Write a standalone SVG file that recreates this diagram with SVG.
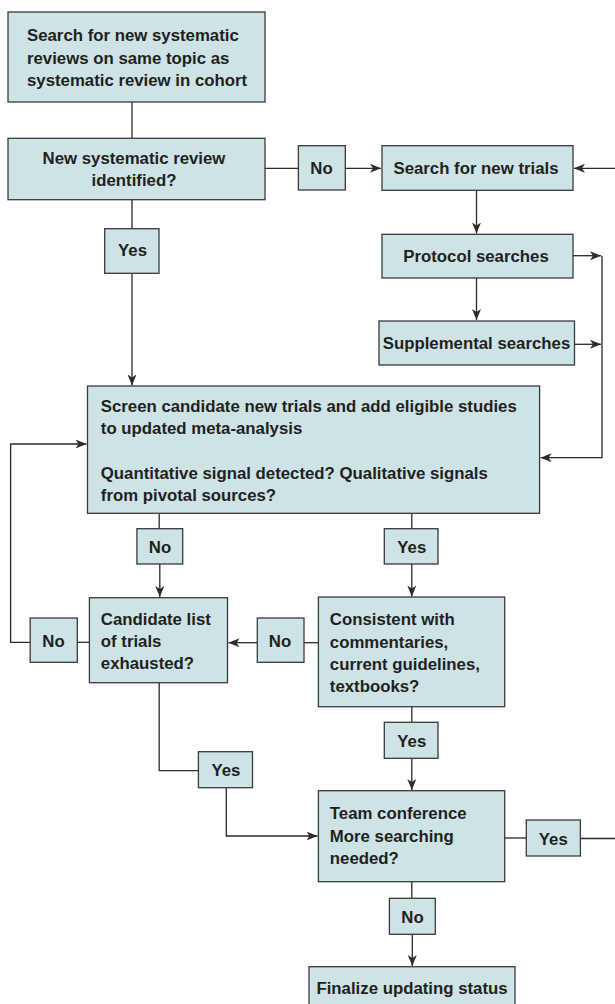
<svg xmlns="http://www.w3.org/2000/svg" width="615" height="1004" viewBox="0 0 615 1004">
<defs>
<style>
.box{fill:#cde3e5;stroke:#3a3a3a;stroke-width:1.3}
.t{font-family:"Liberation Sans",Arial,sans-serif;font-weight:bold;font-size:16.8px;fill:#231f20}
.c{text-anchor:middle}
.ln{fill:none;stroke:#2b2b2b;stroke-width:1.3}
.ar{marker-end:url(#ah)}
</style>
<marker id="ah" markerUnits="userSpaceOnUse" markerWidth="12" markerHeight="10" refX="11" refY="5" orient="auto">
<path d="M0,0.5 L11,5 L0,9.5 L3,5 Z" fill="#2b2b2b"/>
</marker>
</defs>
<rect width="615" height="1004" fill="#ffffff"/>

<g id="connectors">
<line class="ln" x1="132" y1="102" x2="132" y2="138.3"/>
<line class="ln" x1="265" y1="168.3" x2="298.4" y2="168.3"/>
<line class="ln ar" x1="345.3" y1="168.3" x2="381" y2="168.3"/>
<line class="ln ar" x1="615" y1="168.3" x2="574" y2="168.3"/>
<line class="ln ar" x1="476.5" y1="190.3" x2="476.5" y2="233.5"/>
<line class="ln ar" x1="573" y1="255.7" x2="601" y2="255.7"/>
<line class="ln ar" x1="476.5" y1="278" x2="476.5" y2="320"/>
<line class="ln ar" x1="574.5" y1="344.3" x2="601" y2="344.3"/>
<path class="ln ar" d="M602,255.7 V457.7 H540.6"/>
<line class="ln" x1="132" y1="199.7" x2="132" y2="228.7"/>
<line class="ln ar" x1="132" y1="273.3" x2="132" y2="385.5"/>
<path class="ln ar" d="M30.2,642.3 H10.6 V444 H86.5"/>
<line class="ln" x1="89.4" y1="642.3" x2="77.3" y2="642.3"/>
<line class="ln" x1="159.2" y1="513.3" x2="159.2" y2="528.7"/>
<line class="ln ar" x1="159.8" y1="564" x2="159.8" y2="597"/>
<line class="ln" x1="411.8" y1="513.3" x2="411.8" y2="528.7"/>
<line class="ln ar" x1="411.8" y1="564" x2="411.8" y2="596.5"/>
<line class="ln" x1="318.4" y1="642.7" x2="304" y2="642.7"/>
<line class="ln ar" x1="257.3" y1="642.7" x2="228.5" y2="642.7"/>
<line class="ln" x1="411.8" y1="706.7" x2="411.8" y2="722.3"/>
<line class="ln ar" x1="411.8" y1="758.3" x2="411.8" y2="790"/>
<path class="ln" d="M159.2,682.7 V770.7 H198.4"/>
<path class="ln ar" d="M226.3,787.7 V836 H317.5"/>
<line class="ln" x1="504.7" y1="838" x2="526.3" y2="838"/>
<line class="ln" x1="580.4" y1="838.5" x2="615" y2="838.5"/>
<line class="ln" x1="411.8" y1="881.7" x2="411.8" y2="898.3"/>
<line class="ln ar" x1="412.3" y1="934.3" x2="412.3" y2="966"/>
</g>

<g id="n-search-reviews">
<rect class="box" x="8" y="12" width="257" height="90"/>
<text class="t" x="27" y="41">Search for new systematic</text>
<text class="t" x="27" y="63.5">reviews on same topic as</text>
<text class="t" x="27" y="86">systematic review in cohort</text>
</g>

<g id="n-new-review">
<rect class="box" x="8" y="138.3" width="257" height="61.4"/>
<text class="t c" x="134" y="163.5">New systematic review</text>
<text class="t c" x="134" y="186">identified?</text>
</g>

<g id="l-no-1">
<rect class="box" x="298.4" y="145.7" width="46.9" height="44.3"/>
<text class="t c" x="321.5" y="173.5">No</text>
</g>

<g id="n-search-trials">
<rect class="box" x="382" y="145.7" width="191" height="44.6"/>
<text class="t c" x="476" y="173.5">Search for new trials</text>
</g>

<g id="n-protocol">
<rect class="box" x="382" y="234.3" width="191" height="43.7"/>
<text class="t c" x="476" y="261.5">Protocol searches</text>
</g>

<g id="n-supplemental">
<rect class="box" x="379" y="321" width="195.5" height="44"/>
<text class="t c" x="476.5" y="349">Supplemental searches</text>
</g>

<g id="l-yes-1">
<rect class="box" x="104.7" y="228.7" width="54.3" height="44.6"/>
<text class="t c" x="132.5" y="256">Yes</text>
</g>

<g id="n-screen">
<rect class="box" x="87.5" y="386" width="452.1" height="127.3"/>
<text class="t" x="100.8" y="412">Screen candidate new trials and add eligible studies</text>
<text class="t" x="100.8" y="434">to updated meta-analysis</text>
<text class="t" x="100.8" y="478.5">Quantitative signal detected? Qualitative signals</text>
<text class="t" x="100.8" y="500.5">from pivotal sources?</text>
</g>

<g id="l-no-2">
<rect class="box" x="136.9" y="528.7" width="45.8" height="35.3"/>
<text class="t c" x="160" y="552.5">No</text>
</g>

<g id="l-yes-2">
<rect class="box" x="384.3" y="528.7" width="53.7" height="35.3"/>
<text class="t c" x="411.8" y="552.5">Yes</text>
</g>

<g id="n-candidate">
<rect class="box" x="89.4" y="597.7" width="138.1" height="85"/>
<text class="t" x="100.8" y="625">Candidate list</text>
<text class="t" x="100.8" y="647">of trials</text>
<text class="t" x="100.8" y="669">exhausted?</text>
</g>

<g id="l-no-3">
<rect class="box" x="30.2" y="618" width="47.1" height="44.3"/>
<text class="t c" x="53.5" y="646.5">No</text>
</g>

<g id="n-consistent">
<rect class="box" x="318.4" y="597" width="186.3" height="109.7"/>
<text class="t" x="329.8" y="625">Consistent with</text>
<text class="t" x="329.8" y="647.5">commentaries,</text>
<text class="t" x="329.8" y="670">current guidelines,</text>
<text class="t" x="329.8" y="692">textbooks?</text>
</g>

<g id="l-no-4">
<rect class="box" x="257.3" y="618" width="46.7" height="44.3"/>
<text class="t c" x="280" y="646.5">No</text>
</g>

<g id="l-yes-3">
<rect class="box" x="384.3" y="722.3" width="53.7" height="36"/>
<text class="t c" x="411.8" y="746.5">Yes</text>
</g>

<g id="l-yes-4">
<rect class="box" x="198.4" y="751.7" width="54.1" height="36"/>
<text class="t c" x="225.9" y="776">Yes</text>
</g>

<g id="n-team">
<rect class="box" x="318.4" y="790.7" width="186.3" height="91"/>
<text class="t" x="329.8" y="819">Team conference</text>
<text class="t" x="329.8" y="841.5">More searching</text>
<text class="t" x="329.8" y="863.5">needed?</text>
</g>

<g id="l-yes-5">
<rect class="box" x="526.3" y="820" width="54.1" height="36"/>
<text class="t c" x="553.3" y="844.5">Yes</text>
</g>

<g id="l-no-5">
<rect class="box" x="389.4" y="898.3" width="45.9" height="36"/>
<text class="t c" x="412.5" y="922.5">No</text>
</g>

<g id="n-finalize">
<rect class="box" x="309" y="966.7" width="206" height="45"/>
<text class="t c" x="412" y="994">Finalize updating status</text>
</g>
</svg>
